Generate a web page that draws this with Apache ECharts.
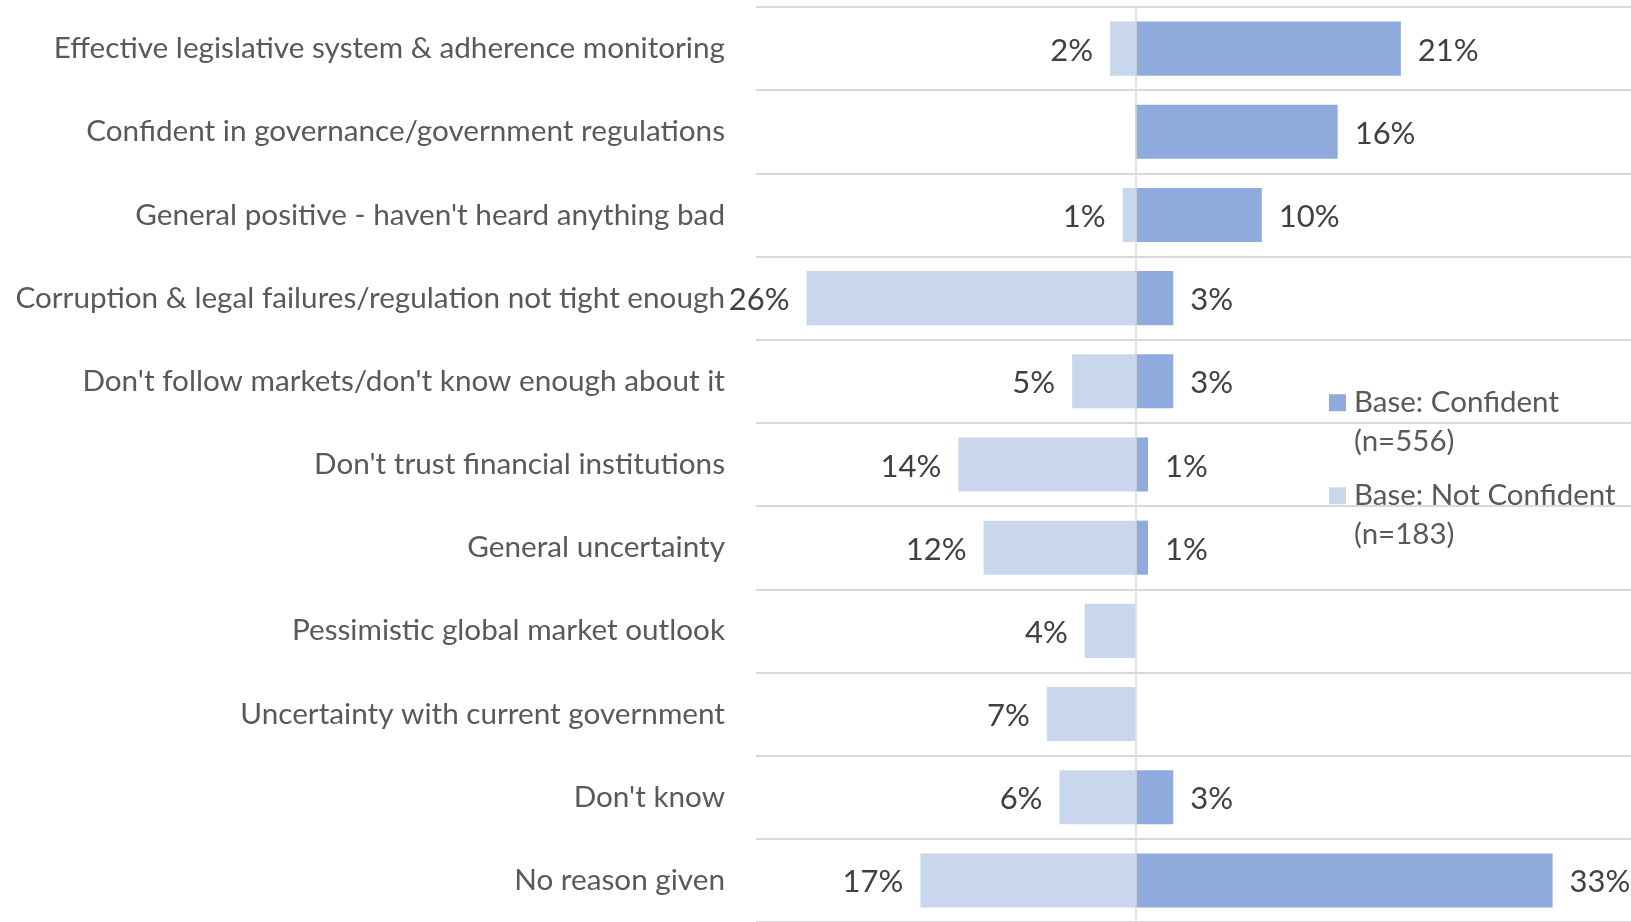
<!DOCTYPE html>
<html>
<head>
<meta charset="utf-8">
<script src="https://cdn.jsdelivr.net/npm/echarts@6/dist/echarts.min.js"></script>
<style>
  html, body { margin: 0; padding: 0; background: #ffffff; }
  #chart { width: 1631px; height: 922px; }
</style>
</head>
<body>
<div id="chart"></div>
<script>
// Reasons given, top to bottom
const categories = [
  'Effective legislative system & adherence monitoring',
  'Confident in governance/government regulations',
  "General positive - haven't heard anything bad",
  'Corruption & legal failures/regulation not tight enough',
  "Don't follow markets/don't know enough about it",
  "Don't trust financial institutions",
  'General uncertainty',
  'Pessimistic global market outlook',
  'Uncertainty with current government',
  "Don't know",
  'No reason given'
];

// Share of respondents (%) per base; null = no response in that base
const confident    = [21, 16, 10, 3, 3, 1, 1, null, null, 3, 33];
const notConfident = [2, null, 1, 26, 5, 14, 12, 4, 7, 6, 17];

const seriesNames = ['Base: Confident\n(n=556)', 'Base: Not Confident\n(n=183)'];

const FONT = 'Lato, "Open Sans", sans-serif';
const labelStyle = {
  show: true,
  fontFamily: FONT,
  fontSize: 31,
  color: '#404040',
  distance: 17,
  offset: [0, 2],
  formatter: p => Math.abs(p.value) + '%'
};

// Legend entries: the swatch sits beside the first line of each two-line name,
// so an empty leading line keeps the block centred one line lower.
const legendBase = {
  orient: 'vertical',
  left: 1329,
  padding: 0,
  itemWidth: 17,
  itemHeight: 17,
  icon: 'rect',
  selectedMode: false,
  formatter: name => '\n' + name,
  textStyle: {
    fontFamily: FONT,
    fontSize: 29.5,
    color: '#595959',
    lineHeight: 38.5,
    padding: [0, 0, 0, 3]
  }
};

const chart = echarts.init(document.getElementById('chart'));
chart.setOption({
  animation: false,
  grid: { left: 756, top: 7, right: 0, height: 916 },
  legend: [
    Object.assign({}, legendBase, { top: 345, data: [seriesNames[0]] }),
    Object.assign({}, legendBase, { top: 438, data: [seriesNames[1]] })
  ],
  xAxis: {
    type: 'value',
    min: -30,
    max: 39.2,
    axisLine: { show: false },
    axisTick: { show: false },
    axisLabel: { show: false },
    splitLine: { show: false }
  },
  yAxis: {
    type: 'category',
    inverse: true,
    data: categories,
    axisLine: { show: false },
    axisTick: { show: false },
    axisLabel: {
      fontFamily: FONT,
      fontSize: 29.7,
      color: '#595959',
      margin: 31
    },
    splitLine: { show: true, lineStyle: { color: '#d9d9d9', width: 2 } }
  },
  series: [
    {
      name: seriesNames[0],
      type: 'bar',
      stack: 'reasons',
      barWidth: '65%',
      data: confident,
      itemStyle: { color: '#8FAADC' },
      label: Object.assign({}, labelStyle, { position: 'right' }),
      markLine: {
        silent: true,
        symbol: 'none',
        label: { show: false },
        lineStyle: { color: '#d9d9d9', width: 1.5, type: 'solid' },
        data: [{ xAxis: 0 }]
      }
    },
    {
      name: seriesNames[1],
      type: 'bar',
      stack: 'reasons',
      barWidth: '65%',
      data: notConfident.map(v => (v == null ? null : -v)),
      itemStyle: { color: '#C9D7ED' },
      label: Object.assign({}, labelStyle, { position: 'left' })
    }
  ]
});
</script>
</body>
</html>
